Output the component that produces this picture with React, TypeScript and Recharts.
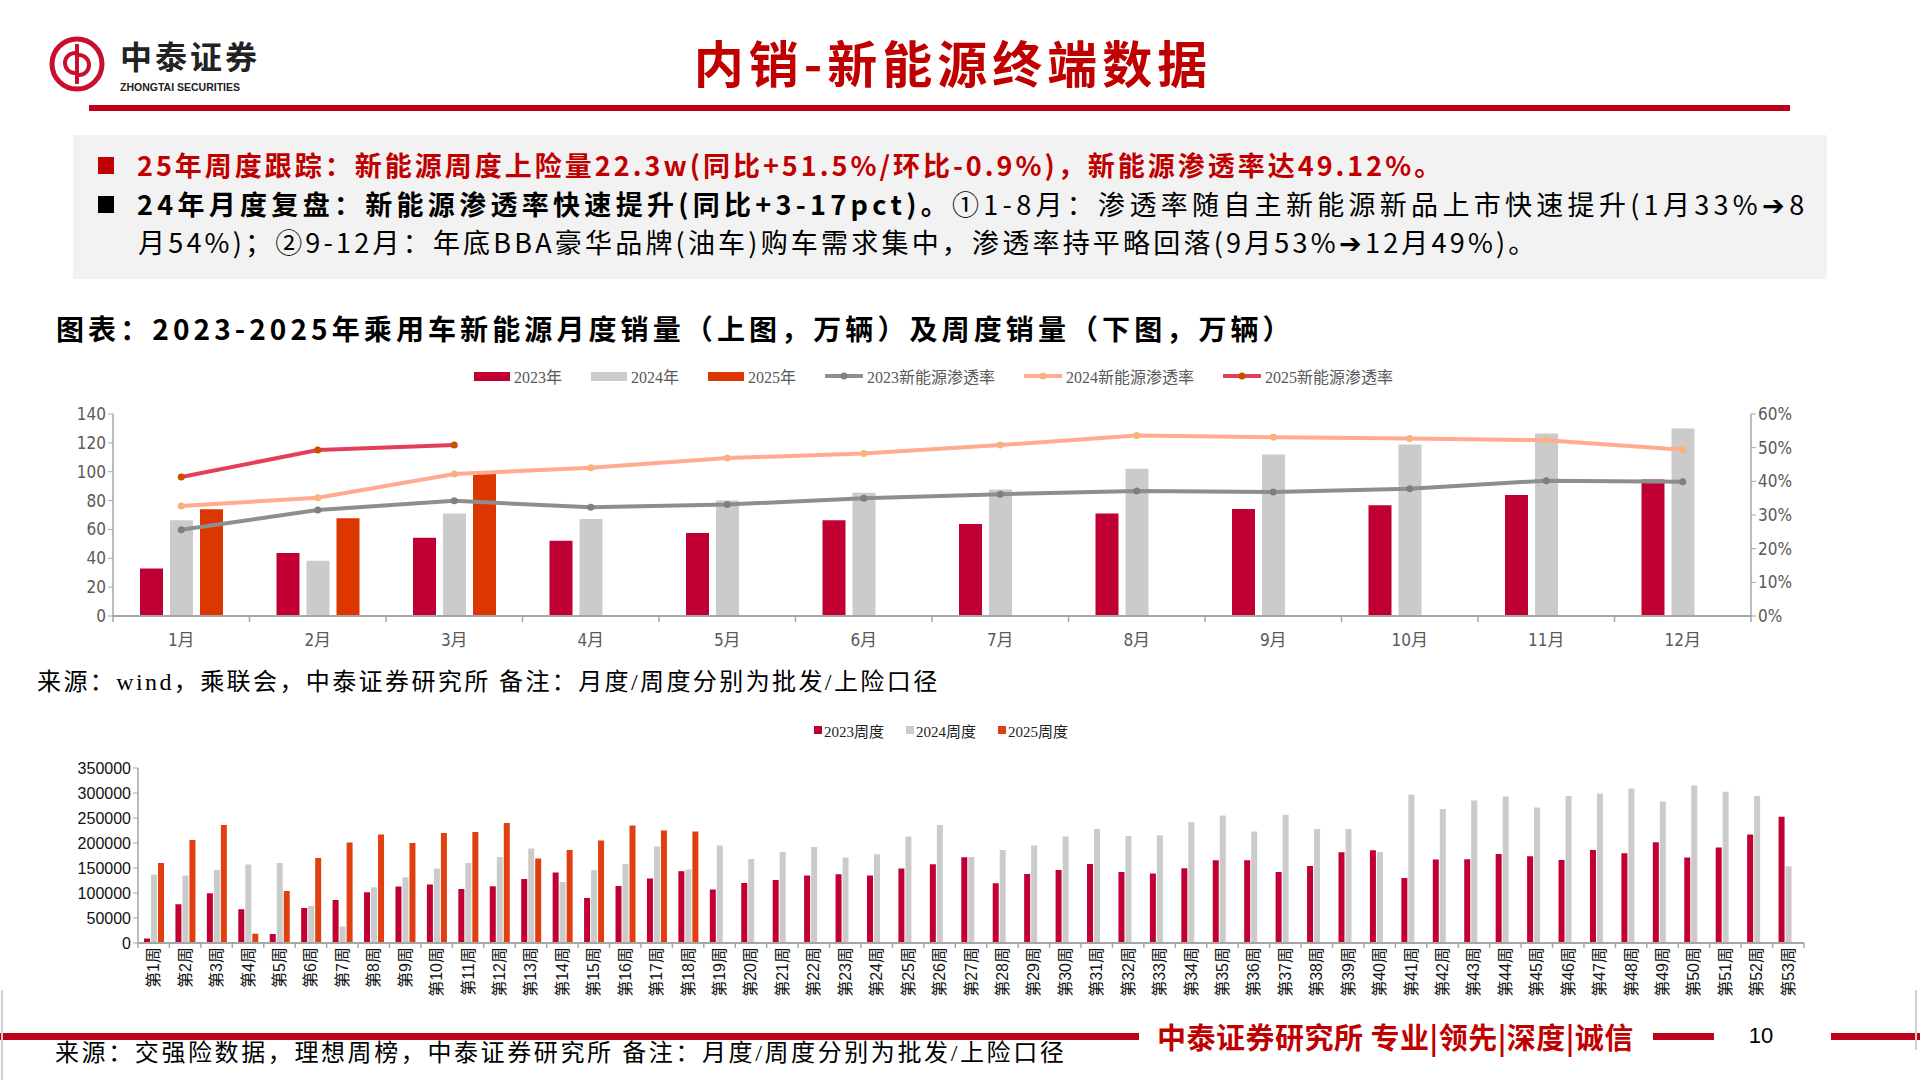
import React from "react";
import { Bar, BarChart, ComposedChart, Line, XAxis, YAxis } from "recharts";

const MONTHS = ["1月", "2月", "3月", "4月", "5月", "6月", "7月", "8月", "9月", "10月", "11月", "12月"];
const SALES_2023 = [33, 43.6, 54.2, 52.1, 57.6, 66.3, 63.8, 71.1, 74.1, 76.7, 83.8, 94.6];
const SALES_2024 = [66.3, 38.3, 71.1, 67.2, 80.1, 85.4, 87.7, 102, 112, 118.9, 126.5, 129.9];
const SALES_2025 = [73.9, 67.7, 98.9, null, null, null, null, null, null, null, null, null];
const PEN_2023 = [25.6, 31.5, 34.2, 32.3, 33.1, 35.0, 36.2, 37.1, 36.8, 37.8, 40.2, 39.9];
const PEN_2024 = [32.7, 35.1, 42.2, 44.0, 46.9, 48.3, 50.8, 53.6, 53.1, 52.7, 52.2, 49.4];
const PEN_2025 = [41.3, 49.3, 50.8, null, null, null, null, null, null, null, null, null];

const WEEKS = [
  "第1周", "第2周", "第3周", "第4周", "第5周", "第6周", "第7周", "第8周", "第9周", "第10周",
  "第11周", "第12周", "第13周", "第14周", "第15周", "第16周", "第17周", "第18周", "第19周", "第20周",
  "第21周", "第22周", "第23周", "第24周", "第25周", "第26周", "第27周", "第28周", "第29周", "第30周",
  "第31周", "第32周", "第33周", "第34周", "第35周", "第36周", "第37周", "第38周", "第39周", "第40周",
  "第41周", "第42周", "第43周", "第44周", "第45周", "第46周", "第47周", "第48周", "第49周", "第50周",
  "第51周", "第52周", "第53周",
];
const WEEK_2023 = [
  9000, 77500, 99500, 67500, 18000, 70000, 86000, 101500, 113000, 117000,
  108000, 113500, 128000, 141000, 90000, 114000, 129000, 143600, 107000, 120000,
  126000, 135000, 137500, 135000, 149000, 157500, 171500, 119500, 138000, 146000,
  158000, 142000, 139000, 149500, 165500, 165500, 142000, 154000, 181500, 185500,
  130000, 167000, 167500, 178000, 173500, 166000, 186000, 179500, 201500, 171000,
  191000, 217000, 252500,
];
const WEEK_2024 = [
  137000, 135000, 146000, 157000, 160000, 74000, 33000, 111500, 131500, 149000,
  160000, 172000, 189000, 122000, 145600, 158000, 193000, 147000, 195000, 168000,
  182000, 192000, 171000, 177500, 213000, 236000, 172000, 186000, 195000, 213000,
  228000, 214000, 215500, 241500, 255000, 223000, 256500, 228000, 228000, 182000,
  296500, 268000, 285000, 293000, 271000, 294000, 299000, 309000, 283000, 315000,
  302500, 294000, 153500,
];
const WEEK_2025 = [
  160000, 206000, 236000, 18700, 104000, 170000, 201000, 217000, 200000, 220000,
  222000, 240000, 169000, 186000, 205000, 235000, 225000, 223000,
];

const LEFT_TICKS = [0, 20, 40, 60, 80, 100, 120, 140];
const RIGHT_TICKS = [0, 10, 20, 30, 40, 50, 60];
const WEEK_TICKS = [0, 50000, 100000, 150000, 200000, 250000, 300000, 350000];

const RED = "#C00000";
const C23 = "#C00032";
const C24 = "#CBCBCB";
const C25 = "#DC3700";
const L23 = "#8E8E8E";
const L24 = "#FFAB92";
const L25 = "#E2405A";
const AXIS = "#A6A6A6";

const CJK = '"Noto Sans CJK SC", sans-serif';
const NARROW = '"Liberation Sans Narrow", "DejaVu Sans Condensed", "Noto Sans CJK SC", sans-serif';
const SERIF = '"Liberation Serif", "Noto Sans CJK SC", serif';
const SANS = '"Liberation Sans", "Noto Sans CJK SC", sans-serif';

const monthly = MONTHS.map((m, i) => ({
  month: m,
  s23: SALES_2023[i],
  s24: SALES_2024[i],
  s25: SALES_2025[i],
  p23: PEN_2023[i],
  p24: PEN_2024[i],
  p25: PEN_2025[i],
}));

const weekly = WEEKS.map((w, i) => ({
  week: w,
  w23: WEEK_2023[i],
  w24: WEEK_2024[i],
  w25: i < WEEK_2025.length ? WEEK_2025[i] : null,
}));

// plot geometry (used only for boundary tick marks on the category axes)
const TOP_PLOT_W = 1751 - 113;
const BOT_PLOT_W = 1804 - 138;

function MonthTick(props: any) {
  const { x, y, payload, index } = props;
  const half = TOP_PLOT_W / MONTHS.length / 2;
  return (
    <g>
      <line x1={x - half} x2={x - half} y1={y} y2={y + 6} stroke={AXIS} strokeWidth={1.5} />
      {index === MONTHS.length - 1 && (
        <line x1={x + half} x2={x + half} y1={y} y2={y + 6} stroke={AXIS} strokeWidth={1.5} />
      )}
      <text x={x} y={y + 24} textAnchor="middle" dominantBaseline="central" fill="#595959" fontSize={17} fontFamily={NARROW}>
        {payload.value}
      </text>
    </g>
  );
}

function WeekTick(props: any) {
  const { x, y, payload, index } = props;
  const half = BOT_PLOT_W / WEEKS.length / 2;
  return (
    <g>
      <line x1={x - half} x2={x - half} y1={y} y2={y + 5} stroke={AXIS} strokeWidth={1.5} />
      {index === WEEKS.length - 1 && (
        <line x1={x + half} x2={x + half} y1={y} y2={y + 5} stroke={AXIS} strokeWidth={1.5} />
      )}
      <text
        x={x}
        y={y + 4}
        transform={`rotate(-90 ${x} ${y + 4})`}
        textAnchor="end"
        dominantBaseline="central"
        fill="#111"
        fontSize={16}
        fontFamily={SANS}
      >
        {payload.value}
      </text>
    </g>
  );
}

const makeDot = (color: string) => (p: any) => {
  if (p.value == null || p.cx == null || p.cy == null) return <g key={p.key} />;
  return <circle key={p.key} cx={p.cx} cy={p.cy} r={3.5} fill={color} stroke="none" />;
};

function BarSwatch({ color }: { color: string }) {
  return <span style={{ display: "inline-block", width: 36, height: 9, background: color, marginRight: 4 }} />;
}

function LineSwatch({ color, dot }: { color: string; dot: string }) {
  return (
    <svg width={38} height={12} style={{ marginRight: 4 }}>
      <line x1={0} x2={38} y1={6} y2={6} stroke={color} strokeWidth={4} />
      <circle cx={19} cy={6} r={3.5} fill={dot} />
    </svg>
  );
}

function TopLegend() {
  const txt: React.CSSProperties = { fontFamily: SERIF, fontSize: 16, color: "#595959" };
  const item: React.CSSProperties = { display: "flex", alignItems: "center" };
  return (
    <div style={{ position: "absolute", left: 474, top: 366, height: 20, display: "flex", gap: 29, alignItems: "center" }}>
      <div style={item}><BarSwatch color={C23} /><span style={txt}>2023年</span></div>
      <div style={item}><BarSwatch color={C24} /><span style={txt}>2024年</span></div>
      <div style={item}><BarSwatch color={C25} /><span style={txt}>2025年</span></div>
      <div style={item}><LineSwatch color={L23} dot="#7F7F7F" /><span style={txt}>2023新能源渗透率</span></div>
      <div style={item}><LineSwatch color={L24} dot="#F8B27A" /><span style={txt}>2024新能源渗透率</span></div>
      <div style={item}><LineSwatch color={L25} dot="#C85000" /><span style={txt}>2025新能源渗透率</span></div>
    </div>
  );
}

function BottomLegend() {
  const txt: React.CSSProperties = { fontFamily: SERIF, fontSize: 15, color: "#222" };
  const sq = (c: string) => <span style={{ display: "inline-block", width: 8, height: 8, background: c, marginRight: 2 }} />;
  return (
    <div style={{ position: "absolute", left: 814, top: 721, height: 18, display: "flex", gap: 22, alignItems: "center" }}>
      <div style={{ display: "flex", alignItems: "center" }}>{sq(C23)}<span style={txt}>2023周度</span></div>
      <div style={{ display: "flex", alignItems: "center" }}>{sq(C24)}<span style={txt}>2024周度</span></div>
      <div style={{ display: "flex", alignItems: "center" }}>{sq("#E04010")}<span style={txt}>2025周度</span></div>
    </div>
  );
}

function Logo() {
  return (
    <div style={{ position: "absolute", left: 48, top: 36 }}>
      <svg width={60} height={60}>
        <circle cx={29} cy={28} r={25} fill="none" stroke="#C8102E" strokeWidth={5} />
        <path d="M29 8 L29 48" stroke="#C8102E" strokeWidth={4} />
        <path d="M27 17 A10 10 0 1 0 27 37" fill="none" stroke="#C8102E" strokeWidth={4} />
        <path d="M31 19 A10 10 0 1 1 31 39" fill="none" stroke="#C8102E" strokeWidth={4} />
      </svg>
      <div style={{ position: "absolute", left: 72, top: 2, fontFamily: CJK, fontWeight: 700, fontSize: 32, lineHeight: "35px", color: "#222", whiteSpace: "nowrap", letterSpacing: 3 }}>
        中泰证券
      </div>
      <div style={{ position: "absolute", left: 72, top: 45, fontFamily: SANS, fontWeight: 700, fontSize: 10.5, lineHeight: "12px", color: "#222", whiteSpace: "nowrap" }}>
        ZHONGTAI SECURITIES
      </div>
    </div>
  );
}

export default function App() {
  const line: React.CSSProperties = { position: "absolute", whiteSpace: "nowrap", fontFamily: CJK, lineHeight: "34px" };
  return (
    <div style={{ position: "relative", width: 1920, height: 1080, background: "#fff", overflow: "hidden" }}>
      <style>{`body{margin:0}`}</style>
      <Logo />
      <div style={{ position: "absolute", left: 0, width: 1906, top: 30, textAlign: "center", fontFamily: CJK, fontWeight: 700, fontSize: 50, lineHeight: "62px", color: RED, letterSpacing: 5 }}>
        内销-新能源终端数据
      </div>
      <div style={{ position: "absolute", left: 89, top: 105, width: 1701, height: 6, background: "#C00018" }} />

      <div style={{ position: "absolute", left: 73, top: 135, width: 1754, height: 144, background: "#F2F2F2" }} />
      <div style={{ position: "absolute", left: 98, top: 157, width: 16, height: 17, background: RED }} />
      <div style={{ ...line, left: 137, top: 148, color: RED, fontWeight: 700, fontSize: 27, letterSpacing: 3 }}>
        25年周度跟踪：新能源周度上险量22.3w(同比+51.5%/环比-0.9%)，新能源渗透率达49.12%。
      </div>
      <div style={{ position: "absolute", left: 98, top: 196, width: 16, height: 17, background: "#000" }} />
      <div style={{ ...line, left: 137, top: 187, color: "#000", fontSize: 27, letterSpacing: 4.3 }}>
        <span style={{ fontWeight: 700 }}>24年月度复盘：新能源渗透率快速提升(同比+3-17pct)。</span>①1-8月：渗透率随自主新能源新品上市快速提升(1月33%➔8
      </div>
      <div style={{ ...line, left: 138, top: 225, color: "#000", fontSize: 27, letterSpacing: 3.2 }}>
        月54%)；②9-12月：年底BBA豪华品牌(油车)购车需求集中，渗透率持平略回落(9月53%➔12月49%)。
      </div>

      <div style={{ position: "absolute", left: 56, top: 311, whiteSpace: "nowrap", fontFamily: CJK, fontWeight: 700, fontSize: 28, lineHeight: "34px", color: "#000", letterSpacing: 4.1 }}>
        图表：2023-2025年乘用车新能源月度销量（上图，万辆）及周度销量（下图，万辆）
      </div>

      <TopLegend />
      <div style={{ position: "absolute", left: 0, top: 360 }}>
        <ComposedChart width={1920} height={300} data={monthly} margin={{ top: 54, right: 109, bottom: 4, left: 53 }} barGap={7}>
          <XAxis dataKey="month" height={40} tickLine={false} tickSize={0} tickMargin={0} axisLine={{ stroke: AXIS, strokeWidth: 2 }} tick={<MonthTick />} interval={0} />
          <YAxis yAxisId="left" width={60} domain={[0, 140]} ticks={LEFT_TICKS} tickSize={5} tickLine={{ stroke: AXIS }} axisLine={{ stroke: AXIS, strokeWidth: 1.5 }} tick={{ fill: "#595959", fontSize: 17, fontFamily: NARROW }} />
          <YAxis yAxisId="right" orientation="right" width={60} domain={[0, 60]} ticks={RIGHT_TICKS} tickFormatter={(v) => `${v}%`} tickSize={5} tickLine={{ stroke: AXIS }} axisLine={{ stroke: AXIS, strokeWidth: 1.5 }} tick={{ fill: "#595959", fontSize: 17, fontFamily: NARROW }} />
          <Bar yAxisId="left" dataKey="s23" name="2023年" fill={C23} barSize={23} isAnimationActive={false} />
          <Bar yAxisId="left" dataKey="s24" name="2024年" fill={C24} barSize={23} isAnimationActive={false} />
          <Bar yAxisId="left" dataKey="s25" name="2025年" fill={C25} barSize={23} isAnimationActive={false} />
          <Line yAxisId="right" dataKey="p23" name="2023新能源渗透率" stroke={L23} strokeWidth={4} dot={makeDot("#7F7F7F")} isAnimationActive={false} />
          <Line yAxisId="right" dataKey="p24" name="2024新能源渗透率" stroke={L24} strokeWidth={4} dot={makeDot("#F8B27A")} isAnimationActive={false} />
          <Line yAxisId="right" dataKey="p25" name="2025新能源渗透率" stroke={L25} strokeWidth={4} dot={makeDot("#C85000")} isAnimationActive={false} />
        </ComposedChart>
      </div>

      <div style={{ position: "absolute", left: 37, top: 666, whiteSpace: "nowrap", fontFamily: SERIF, fontSize: 24, lineHeight: "32px", color: "#000", letterSpacing: 2.4 }}>
        来源：wind，乘联会，中泰证券研究所 备注：月度/周度分别为批发/上险口径
      </div>

      <BottomLegend />
      <div style={{ position: "absolute", left: 0, top: 700 }}>
        <BarChart width={1920} height={305} data={weekly} margin={{ top: 68, right: 116, bottom: 2, left: 68 }} barGap={1}>
          <XAxis dataKey="week" height={60} tickLine={false} tickSize={0} tickMargin={0} axisLine={{ stroke: AXIS, strokeWidth: 2 }} tick={<WeekTick />} interval={0} />
          <YAxis width={70} domain={[0, 350000]} ticks={WEEK_TICKS} tickSize={5} tickLine={{ stroke: AXIS }} axisLine={{ stroke: AXIS, strokeWidth: 1.5 }} tick={{ fill: "#111", fontSize: 16, fontFamily: SANS }} />
          <Bar dataKey="w23" name="2023周度" fill={C23} barSize={6} isAnimationActive={false} />
          <Bar dataKey="w24" name="2024周度" fill={C24} barSize={6} isAnimationActive={false} />
          <Bar dataKey="w25" name="2025周度" fill="#E04010" barSize={6} isAnimationActive={false} />
        </BarChart>
      </div>

      <div style={{ position: "absolute", left: 0, top: 1033, width: 1139, height: 7, background: "#C00018" }} />
      <div style={{ position: "absolute", left: 1157, top: 1016, whiteSpace: "nowrap", fontFamily: CJK, fontWeight: 700, fontSize: 29, lineHeight: "40px", color: RED, letterSpacing: 0.5 }}>
        中泰证券研究所 专业|领先|深度|诚信
      </div>
      <div style={{ position: "absolute", left: 1653, top: 1033, width: 61, height: 7, background: "#C00018" }} />
      <div style={{ position: "absolute", left: 1745, top: 1022, width: 32, textAlign: "center", fontFamily: SANS, fontSize: 22, lineHeight: "28px", color: "#000" }}>10</div>
      <div style={{ position: "absolute", left: 1831, top: 1033, width: 89, height: 7, background: "#C00018" }} />
      <div style={{ position: "absolute", left: 55, top: 1037, whiteSpace: "nowrap", fontFamily: SERIF, fontSize: 24, lineHeight: "32px", color: "#000", letterSpacing: 2.6 }}>
        来源：交强险数据，理想周榜，中泰证券研究所 备注：月度/周度分别为批发/上险口径
      </div>
      <div style={{ position: "absolute", left: 1, top: 990, width: 2, height: 90, background: "#D0D0D0" }} />
      <div style={{ position: "absolute", left: 1915, top: 990, width: 2, height: 60, background: "#D0D0D0" }} />
    </div>
  );
}
